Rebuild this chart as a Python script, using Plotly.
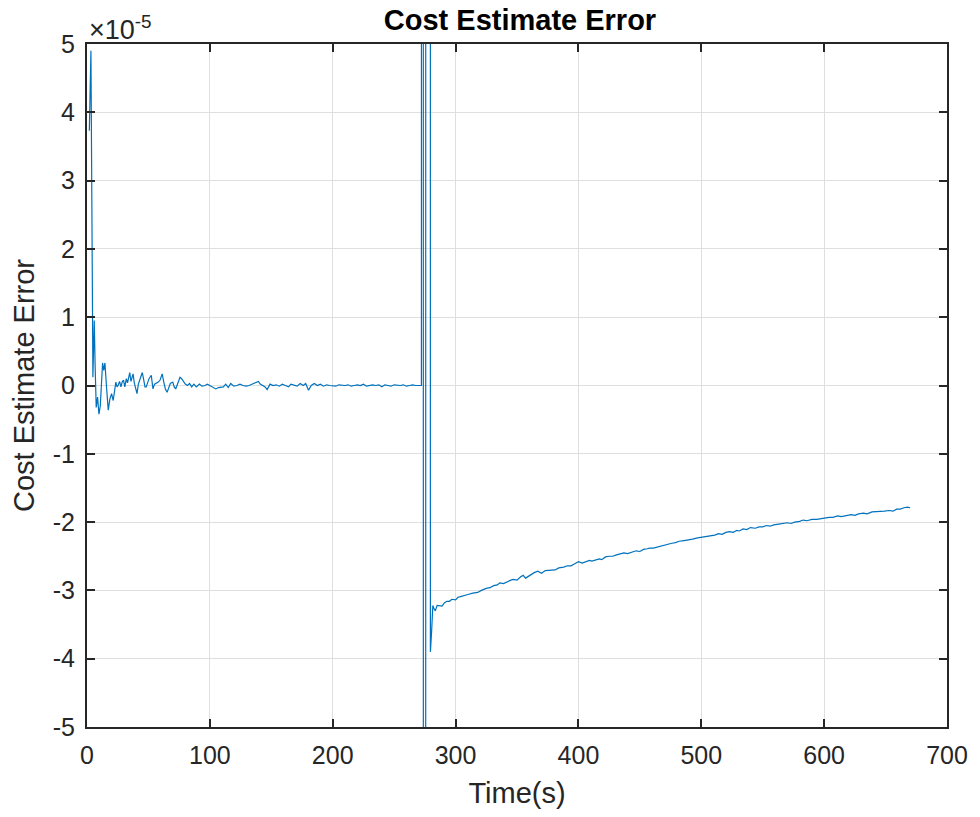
import plotly.graph_objects as go

# Cost estimate error, in units of 1e-5, sampled over the run
time_early = [1.9, 3.2, 4.8, 5.9, 6.6, 7.5, 8.6, 9.7, 10.8, 11.6, 12.7, 13.6, 14.6, 15.8,
              17.3, 18.6, 20.0, 21.3, 22.4, 23.5, 24.4, 25.3, 26.5, 27.6, 28.6, 29.7,
              30.8, 32.0, 33.0, 34.8, 35.8, 37.5, 38.5, 39.6, 40.7, 41.8, 42.9, 44.0,
              45.0, 46.2, 47.2, 48.2, 49.5, 50.5, 52.3, 53.0, 53.7, 55.0, 56.5, 58.0,
              59.5, 61.2, 62.5, 63.8, 65.2, 66.5, 67.8, 69.8, 71.0, 72.2, 73.8, 75.7,
              77.0, 78.5, 80.0]
err_early = [3.73, 4.90, 0.12, 0.95, 0.30, -0.32, -0.17, -0.42, -0.30, 0.05, 0.33, 0.22,
             0.33, 0.00, -0.36, -0.20, -0.12, -0.22, -0.05, 0.05, -0.02, 0.00, 0.06, -0.02,
             0.05, 0.08, -0.02, 0.10, 0.04, 0.19, 0.06, 0.17, 0.04, -0.05, -0.12, 0.02,
             0.07, 0.14, 0.19, 0.08, -0.02, -0.02, 0.07, 0.10, 0.15, 0.05, -0.05, 0.02,
             0.03, 0.05, 0.08, 0.17, 0.05, -0.05, -0.10, -0.02, 0.03, 0.05, -0.02, -0.05,
             0.02, 0.12, 0.10, 0.05, 0.02]

time_steady = [81.8, 83.5, 85.2, 87.0, 89.0, 91.5, 93.5, 96.0, 98.0, 100.0, 102.0, 104.9,
               107.0, 109.5, 111.0, 112.9, 115.0, 117.0, 119.5, 122.0, 124.5, 127.0, 129.5,
               132.0, 134.5, 137.2, 139.5, 141.0, 143.0, 145.0, 146.6, 149.0, 151.5, 154.0,
               156.5, 159.0, 161.5, 164.0, 166.0, 168.5, 171.0, 173.5, 176.0, 178.0, 180.3,
               182.5, 185.0, 187.5, 190.0, 192.5, 195.0, 197.5, 200.0, 202.5, 205.0, 207.5,
               210.0, 212.5, 215.0, 217.5, 220.0, 222.5, 225.0, 227.5, 230.0, 232.5, 235.0,
               237.5, 240.0, 242.5, 245.0, 247.5, 250.0, 252.5, 255.0, 257.5, 260.0, 262.5,
               265.0, 267.5, 270.0, 272.2]
err_steady = [0.00, 0.03, -0.02, 0.02, -0.02, 0.02, -0.01, 0.00, 0.02, 0.00, -0.02, -0.05,
              -0.03, -0.03, -0.02, 0.02, -0.03, 0.03, -0.01, 0.00, 0.02, 0.00, -0.01,
              0.00, 0.02, 0.05, 0.06, 0.02, 0.00, -0.02, -0.06, 0.02, 0.00, 0.01,
              -0.01, 0.02, 0.00, -0.02, 0.02, 0.01, -0.01, 0.03, 0.00, 0.03, -0.07,
              0.00, 0.03, 0.00, 0.02, -0.01, 0.01, 0.00, 0.00, -0.01, 0.01, 0.00,
              0.00, 0.01, -0.01, 0.00, 0.01, 0.00, 0.02, -0.01, 0.00, 0.01, 0.00,
              0.01, -0.02, 0.01, 0.00, -0.01, 0.01, 0.00, 0.00, 0.01, -0.01, 0.00,
              0.01, 0.00, 0.00, 0.00]

# estimator reset: large excursions well outside the plotted range
time_reset = [272.5, 275.0, 276.4, 278.9]
err_reset = [400.0, -400.0, 400.0, 400.0]

time_after = [279.5, 280.5, 281.5, 282.5, 283.5, 285, 287, 289, 291, 293, 295, 297, 300,
              302, 304, 307, 310, 314, 318, 321, 325, 328, 331, 334, 336, 339, 342, 345,
              347, 350, 353, 355, 357, 361, 364, 367, 370, 373, 377, 381, 384, 388, 391,
              394, 397, 400, 403, 406, 409, 411, 414, 417, 419, 422, 425, 428, 431, 434,
              437, 440, 443, 447, 450, 453, 456, 458, 461, 465, 468, 472, 476, 479, 482,
              486, 490, 493, 497, 500, 503, 506, 509, 511, 514, 517, 520, 523, 526, 529,
              531, 534, 537, 540, 544, 547, 550, 553, 556, 559, 563, 566, 570, 573, 576,
              580, 583, 586, 590, 594, 597, 600, 604, 607, 611, 614, 618, 622, 625, 628,
              632, 635, 639, 642, 646, 649, 653, 656, 659, 662, 665, 668, 670]
err_after = [-3.90, -3.60, -3.22, -3.27, -3.30, -3.22, -3.22, -3.23, -3.18, -3.16, -3.16,
             -3.13, -3.14, -3.10, -3.09, -3.07, -3.06, -3.04, -3.03, -3.00, -2.97, -2.96,
             -2.93, -2.92, -2.89, -2.90, -2.87, -2.85, -2.84, -2.85, -2.80, -2.78, -2.82,
             -2.77, -2.74, -2.72, -2.75, -2.71, -2.70, -2.70, -2.67, -2.66, -2.64, -2.64,
             -2.61, -2.58, -2.60, -2.58, -2.56, -2.57, -2.55, -2.54, -2.55, -2.51, -2.50,
             -2.50, -2.48, -2.47, -2.45, -2.46, -2.44, -2.42, -2.43, -2.40, -2.39, -2.38,
             -2.38, -2.36, -2.34, -2.32, -2.31, -2.30, -2.28, -2.27, -2.26, -2.25, -2.23,
             -2.22, -2.22, -2.21, -2.19, -2.19, -2.17, -2.18, -2.15, -2.14, -2.15, -2.12,
             -2.13, -2.10, -2.11, -2.08, -2.09, -2.07, -2.07, -2.05, -2.06, -2.04, -2.03,
             -2.02, -2.01, -2.02, -2.00, -1.99, -1.97, -1.98, -1.96, -1.96, -1.95, -1.95,
             -1.93, -1.93, -1.91, -1.92, -1.91, -1.89, -1.90, -1.88, -1.87, -1.88, -1.85,
             -1.85, -1.84, -1.84, -1.83, -1.84, -1.81, -1.81, -1.79, -1.78, -1.79]

SCALE = 1e-5
x_ticks = [0, 100, 200, 300, 400, 500, 600, 700]
y_ticks = [-5, -4, -3, -2, -1, 0, 1, 2, 3, 4, 5]

time = time_early + time_steady + time_reset + time_after
err = [v * SCALE for v in err_early + err_steady + err_reset + err_after]

FONT = "Liberation Sans, Arial, sans-serif"
INK = "#262626"
GRID = "#dfdfdf"

fig = go.Figure()
fig.add_trace(go.Scatter(x=time, y=err, mode="lines",
                         line=dict(color="#0072BD", width=1.2),
                         showlegend=False, hoverinfo="x+y"))

axis_common = dict(
    showline=True, linecolor=INK, linewidth=2, mirror="ticks",
    ticks="inside", ticklen=8, tickwidth=1.5, tickcolor=INK,
    showgrid=True, gridcolor=GRID, gridwidth=1, zeroline=False,
    tickfont=dict(family=FONT, size=25, color=INK),
)

fig.update_layout(
    width=980, height=817,
    margin=dict(l=87, r=26, t=44, b=90),
    paper_bgcolor="white", plot_bgcolor="white",
    title=dict(text="<b>Cost Estimate Error</b>", x=0.5306, xanchor="center",
               y=0.976, yanchor="middle",
               font=dict(family=FONT, size=29, color="black")),
    xaxis=dict(range=[0, 700], tickvals=x_ticks,
               ticktext=[str(v) for v in x_ticks], ticklabelstandoff=5,
               title=dict(text="Time(s)", standoff=15,
                          font=dict(family=FONT, size=29, color=INK)),
               **axis_common),
    yaxis=dict(range=[-5 * SCALE, 5 * SCALE], tickvals=[v * SCALE for v in y_ticks],
               ticktext=[str(v) for v in y_ticks], ticklabelstandoff=5,
               title=dict(text="Cost Estimate Error", standoff=10,
                          font=dict(family=FONT, size=29, color=INK)),
               **axis_common),
)

# exponent of the y-axis tick values
fig.add_annotation(xref="paper", yref="paper", x=0, y=1, xanchor="left",
                   yanchor="bottom", yshift=-3, showarrow=False,
                   text="×10<sup>-5</sup>",
                   font=dict(family=FONT, size=27, color=INK))

fig.write_html("out.html")
